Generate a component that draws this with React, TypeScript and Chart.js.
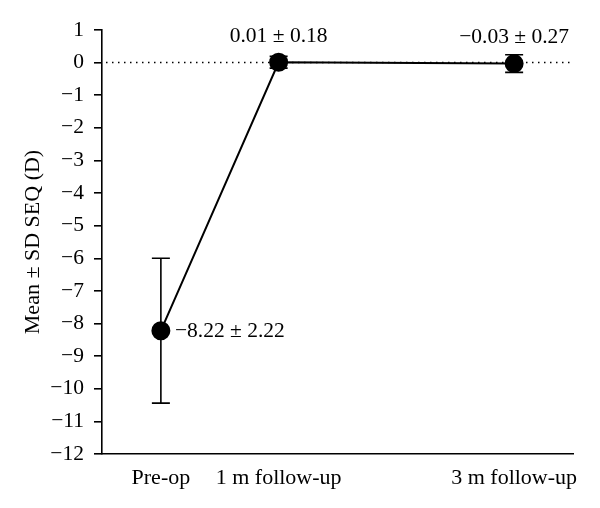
import React, { useEffect, useRef } from "react";
import { Chart, registerables } from "chart.js";

Chart.register(...registerables);

const months = [0, 1, 3];
const categoryLabels = ["Pre-op", "1 m follow-up", "3 m follow-up"];
const meanSEQ = [-8.22, 0.01, -0.03];
const sdSEQ = [2.22, 0.18, 0.27];
const valueLabels = ["\u22128.22 \u00b1 2.22", "0.01 \u00b1 0.18", "\u22120.03 \u00b1 0.27"];
const yTicksMin = -12;
const yTicksMax = 1;

const FONT = "'Liberation Serif', 'DejaVu Serif', serif";

const fmt = (v: number) => (v < 0 ? "\u2212" + Math.abs(v) : String(v));

const extrasPlugin = {
  id: "extras",
  beforeDatasetsDraw(chart: any) {
    const { ctx, chartArea, scales } = chart;
    const y0 = scales.y.getPixelForValue(0);
    ctx.save();
    ctx.strokeStyle = "#000";
    ctx.lineWidth = 1.5;
    ctx.setLineDash([1.5, 4.5]);
    ctx.beginPath();
    ctx.moveTo(chartArea.left + 4, y0);
    ctx.lineTo(chartArea.right, y0);
    ctx.stroke();
    ctx.setLineDash([]);
    ctx.lineWidth = 1.6;
    months.forEach((m, i) => {
      const x = scales.x.getPixelForValue(m);
      const yt = scales.y.getPixelForValue(meanSEQ[i] + sdSEQ[i]);
      const yb = scales.y.getPixelForValue(meanSEQ[i] - sdSEQ[i]);
      ctx.beginPath();
      ctx.moveTo(x, yt);
      ctx.lineTo(x, yb);
      ctx.moveTo(x - 9, yt);
      ctx.lineTo(x + 9, yt);
      ctx.moveTo(x - 9, yb);
      ctx.lineTo(x + 9, yb);
      ctx.stroke();
    });
    ctx.restore();
  },
  afterDatasetsDraw(chart: any) {
    const { ctx, scales } = chart;
    ctx.save();
    ctx.fillStyle = "#000";
    ctx.font = `21.5px ${FONT}`;
    ctx.textBaseline = "middle";
    months.forEach((m, i) => {
      const x = scales.x.getPixelForValue(m);
      const y = scales.y.getPixelForValue(meanSEQ[i]);
      if (i === 0) {
        ctx.textAlign = "left";
        ctx.fillText(valueLabels[i], x + 14, y + 1);
      } else {
        ctx.textAlign = "center";
        ctx.fillText(valueLabels[i], x, y - 26);
      }
    });
    ctx.restore();
  },
};

export default function App() {
  const ref = useRef<HTMLCanvasElement | null>(null);
  useEffect(() => {
    if (!ref.current) return;
    const chart = new Chart(ref.current, {
      type: "line",
      data: {
        datasets: [
          {
            data: months.map((m, i) => ({ x: m, y: meanSEQ[i] })),
            borderColor: "#000",
            borderWidth: 2,
            backgroundColor: "#000",
            pointBackgroundColor: "#000",
            pointBorderColor: "#000",
            pointRadius: 8.5,
            pointHoverRadius: 8.5,
            tension: 0,
          },
        ],
      },
      options: {
        animation: false,
        responsive: true,
        maintainAspectRatio: false,
        layout: { padding: { top: 30, right: 27, left: 0, bottom: 0 } },
        plugins: { legend: { display: false }, tooltip: { enabled: false } },
        scales: {
          x: {
            type: "linear",
            min: -0.5,
            max: 3.5,
            afterBuildTicks: (scale: any) => {
              scale.ticks = months.map((m) => ({ value: m }));
            },
            afterFit: (scale: any) => {
              scale.height = 54;
            },
            grid: { display: false, drawTicks: false },
            border: { display: true, color: "#000", width: 1.6 },
            ticks: {
              autoSkip: false,
              maxRotation: 0,
              padding: 11,
              color: "#000",
              font: { family: FONT, size: 22 },
              callback: (v: any) => {
                const idx = months.indexOf(Number(v));
                return idx >= 0 ? categoryLabels[idx] : "";
              },
            },
          },
          y: {
            min: yTicksMin,
            max: yTicksMax,
            afterFit: (scale: any) => {
              scale.width = 102;
            },
            grid: {
              display: true,
              drawOnChartArea: false,
              drawTicks: true,
              tickLength: 8,
              color: "#000",
              lineWidth: 1.6,
            },
            border: { display: true, color: "#000", width: 1.6 },
            ticks: {
              stepSize: 1,
              padding: 10,
              color: "#000",
              font: { family: FONT, size: 21.5 },
              callback: (v: any) => fmt(Number(v)),
            },
            title: {
              display: true,
              text: "Mean \u00b1 SD SEQ (D)",
              color: "#000",
              font: { family: FONT, size: 22 },
              padding: { top: 20, bottom: 0 },
            },
          },
        },
      },
      plugins: [extrasPlugin],
    });
    return () => chart.destroy();
  }, []);
  return (
    <div style={{ position: "absolute", left: 0, top: 0, width: 600, height: 508, background: "#fff" }}>
      <canvas ref={ref} />
    </div>
  );
}
